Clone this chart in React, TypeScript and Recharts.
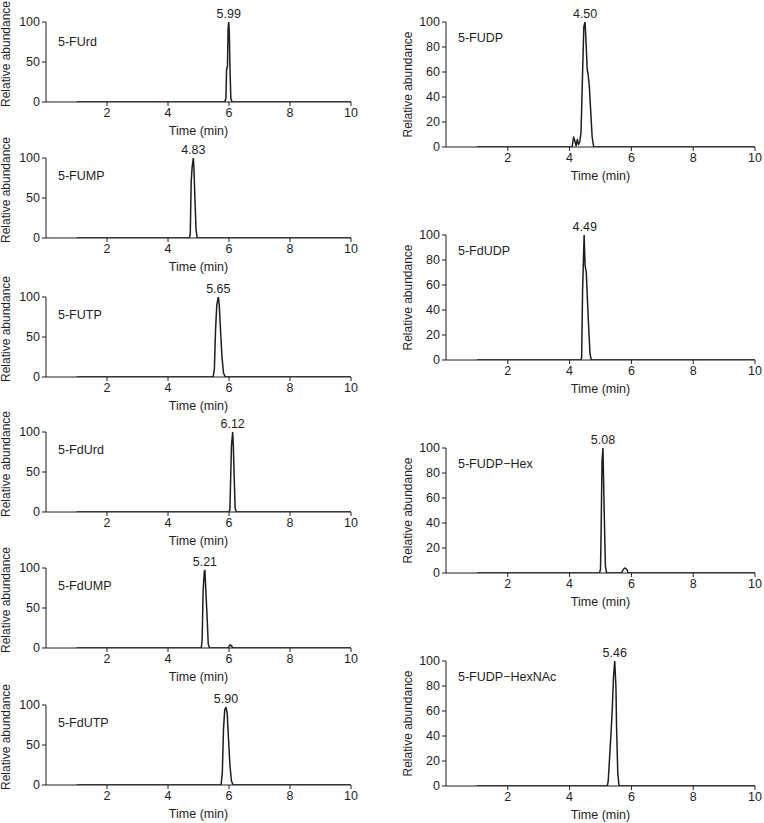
import React from 'react';
import { LineChart, Line, XAxis, YAxis, ReferenceDot } from 'recharts';

type Pt = [number, number];

// time (min), relative abundance
const fUrd: Pt[] = [[1, 0], [5.86, 0], [5.9, 5], [5.92, 40], [5.95, 45], [5.97, 92], [5.99, 100], [6.01, 88], [6.03, 45], [6.06, 5], [6.1, 0], [10, 0]];
const fUmp: Pt[] = [[1, 0], [4.7, 0], [4.73, 5], [4.76, 70], [4.79, 88], [4.83, 100], [4.85, 88], [4.88, 52], [4.92, 10], [4.96, 0], [10, 0]];
const fUtp: Pt[] = [[1, 0], [5.48, 0], [5.52, 10], [5.56, 60], [5.6, 90], [5.65, 100], [5.68, 90], [5.72, 60], [5.77, 25], [5.82, 5], [5.88, 0], [10, 0]];
const fdUrd: Pt[] = [[1, 0], [6.0, 0], [6.03, 3], [6.05, 35], [6.08, 82], [6.12, 100], [6.14, 85], [6.17, 45], [6.2, 5], [6.24, 0], [10, 0]];
const fdUmp: Pt[] = [[1, 0], [5.09, 0], [5.12, 10], [5.15, 70], [5.19, 96], [5.21, 97], [5.24, 72], [5.28, 40], [5.32, 5], [5.36, 0], [5.98, 0], [6.03, 4], [6.08, 3], [6.12, 0], [10, 0]];
const fdUtp: Pt[] = [[1, 0], [5.74, 0], [5.78, 15], [5.82, 70], [5.86, 94], [5.9, 97], [5.94, 90], [5.98, 60], [6.03, 25], [6.08, 5], [6.14, 0], [10, 0]];

const fUdp: Pt[] = [[1, 0], [4.08, 0], [4.13, 8], [4.18, 4], [4.21, 1], [4.25, 6], [4.29, 2], [4.33, 4], [4.37, 12], [4.41, 50], [4.46, 96], [4.5, 100], [4.53, 85], [4.57, 62], [4.6, 58], [4.64, 48], [4.68, 30], [4.73, 8], [4.78, 0], [10, 0]];
const fdUdp: Pt[] = [[1, 0], [4.36, 0], [4.39, 2], [4.42, 55], [4.47, 100], [4.5, 76], [4.54, 70], [4.6, 35], [4.66, 5], [4.7, 0], [10, 0]];
const fUdpHex: Pt[] = [[1, 0], [4.97, 0], [5.0, 3], [5.02, 33], [5.05, 90], [5.08, 100], [5.1, 74], [5.13, 37], [5.16, 5], [5.2, 0], [5.68, 0], [5.74, 3], [5.79, 4], [5.85, 3], [5.9, 0], [10, 0]];
const fUdpHexNAc: Pt[] = [[1, 0], [5.22, 0], [5.25, 4], [5.29, 21], [5.34, 42], [5.38, 61], [5.42, 87], [5.46, 100], [5.5, 79], [5.52, 47], [5.56, 10], [5.6, 0], [10, 0]];

const leftNames = ['5-FUrd', '5-FUMP', '5-FUTP', '5-FdUrd', '5-FdUMP', '5-FdUTP'];
const leftPeaks = ['5.99', '4.83', '5.65', '6.12', '5.21', '5.90'];
const leftSeries = [fUrd, fUmp, fUtp, fdUrd, fdUmp, fdUtp];

const rightNames = ['5-FUDP', '5-FdUDP', '5-FUDP\u2212Hex', '5-FUDP\u2212HexNAc'];
const rightPeaks = ['4.50', '4.49', '5.08', '5.46'];
const rightSeries = [fUdp, fdUdp, fUdpHex, fUdpHexNAc];

const xTicks = [2, 4, 6, 8, 10];
const leftYTicks = [0, 50, 100];
const rightYTicks = [0, 20, 40, 60, 80, 100];

// layout
const FONT = '"Liberation Sans", Arial, sans-serif';
const FS = 12.5;
const INK = '#1e1e1e';
const MARGIN_TOP = 34;
const leftTops = [22, 158, 297, 432, 568, 705];
const rightTops = [22, 235, 448, 661];

type TextProps = {
  plotLeft: number;
  plotTop: number;
  plotH: number;
  name: string;
  nameDy: number;
  titleX: number;
  titleDy: number;
};

function PanelText({ plotLeft, plotTop, plotH, name, nameDy, titleX, titleDy }: TextProps) {
  const cy = plotTop + plotH / 2 + titleDy;
  return (
    <g>
      <text
        x={titleX}
        y={cy}
        transform={`rotate(-90, ${titleX}, ${cy})`}
        textAnchor='middle'
        dominantBaseline='central'
        fontSize={12}
        fontFamily={FONT}
        fill={INK}
      >
        Relative abundance
      </text>
      <text
        x={plotLeft + 12}
        y={plotTop + nameDy}
        dominantBaseline='central'
        fontSize={FS}
        fontFamily={FONT}
        fill={INK}
      >
        {name}
      </text>
    </g>
  );
}

function TimeTitle({ midX, baseY }: { midX: number; baseY: number }) {
  return (
    <text x={midX} y={baseY} textAnchor='middle' dominantBaseline='central' fontSize={FS} fontFamily={FONT} fill={INK}>
      Time (min)
    </text>
  );
}

type PanelProps = {
  points: Pt[];
  name: string;
  peak: string;
  left: number;
  top: number;
  width: number;
  yAxisW: number;
  rightM: number;
  plotH: number;
  yTicks: number[];
  nameDy: number;
  titleX: number;
  titleDy: number;
};

function Panel(p: PanelProps) {
  const data = p.points.map(([t, v]) => ({ t, v }));
  const axisH = 40;
  const peakPt = p.points.reduce((a, b) => (b[1] > a[1] ? b : a));
  const plotW = p.width - p.yAxisW - p.rightM;
  return (
    <div style={{ position: 'absolute', left: p.left, top: p.top - MARGIN_TOP }}>
      <LineChart
        width={p.width}
        height={MARGIN_TOP + p.plotH + axisH}
        data={data}
        margin={{ top: MARGIN_TOP, right: p.rightM, bottom: 0, left: 0 }}
      >
        <XAxis
          dataKey='t'
          type='number'
          domain={[0, 10]}
          ticks={xTicks}
          interval={0}
          allowDataOverflow
          height={axisH}
          tickSize={4}
          stroke={INK}
          tick={{ fontSize: FS, fill: INK, fontFamily: FONT }}
          label={<TimeTitle midX={p.yAxisW + plotW / 2} baseY={MARGIN_TOP + p.plotH + 29} />}
        />
        <YAxis
          type='number'
          domain={[0, 100]}
          ticks={p.yTicks}
          interval={0}
          allowDataOverflow
          width={p.yAxisW}
          tickSize={4}
          stroke={INK}
          tick={{ fontSize: FS, fill: INK, fontFamily: FONT }}
          label={
            <PanelText
              plotLeft={p.yAxisW}
              plotTop={MARGIN_TOP}
              plotH={p.plotH}
              name={p.name}
              nameDy={p.nameDy}
              titleX={p.titleX}
              titleDy={p.titleDy}
            />
          }
        />
        <Line
          type='linear'
          dataKey='v'
          stroke={INK}
          strokeWidth={1.5}
          dot={false}
          strokeLinejoin='round'
          isAnimationActive={false}
        />
        <ReferenceDot
          x={Number(p.peak)}
          y={peakPt[1]}
          r={0}
          fill='none'
          stroke='none'
          label={{ value: p.peak, position: 'top', offset: 4, fill: INK, fontSize: FS, fontFamily: FONT }}
        />
      </LineChart>
    </div>
  );
}

export default function App() {
  return (
    <div style={{ position: 'absolute', left: 0, top: 0, width: 764, height: 823, overflow: 'hidden', background: '#fff', fontFamily: FONT }}>
      {leftSeries.map((s, i) => (
        <Panel
          key={leftNames[i]}
          points={s}
          name={leftNames[i]}
          peak={leftPeaks[i]}
          left={0}
          top={leftTops[i]}
          width={370}
          yAxisW={46}
          rightM={19}
          plotH={80}
          yTicks={leftYTicks}
          nameDy={i === 0 ? 20 : 18}
          titleX={6}
          titleDy={-8}
        />
      ))}
      {rightSeries.map((s, i) => (
        <Panel
          key={rightNames[i]}
          points={s}
          name={rightNames[i]}
          peak={rightPeaks[i]}
          left={380}
          top={rightTops[i]}
          width={384}
          yAxisW={66}
          rightM={9}
          plotH={125}
          yTicks={rightYTicks}
          nameDy={16}
          titleX={28}
          titleDy={0}
        />
      ))}
    </div>
  );
}
